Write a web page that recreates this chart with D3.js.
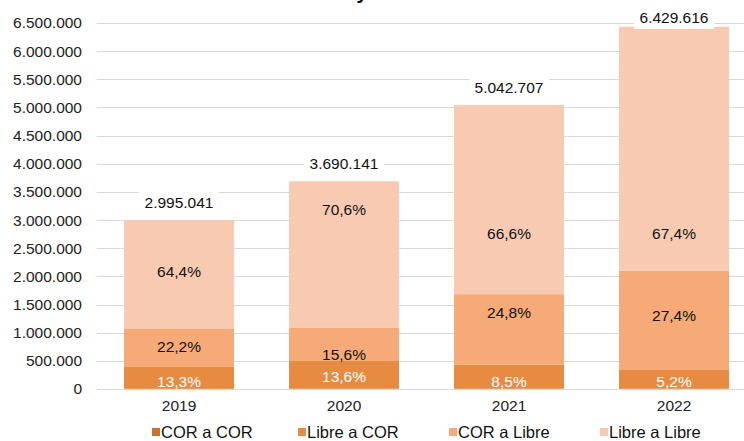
<!DOCTYPE html>
<html>
<head>
<meta charset="utf-8">
<script src="https://cdn.jsdelivr.net/npm/d3@7"></script>
<style>
  body { margin: 0; background: #fff; }
  svg { display: block; font-family: "Liberation Sans", Arial, sans-serif; }
</style>
</head>
<body>
<div id="viz"></div>
<script>
// data
var years = ["2019", "2020", "2021", "2022"];
var totals = [2995041, 3690141, 5042707, 6429616];
var series = ["COR a COR", "Libre a COR", "COR a Libre", "Libre a Libre"];
var pctCorCor = [0.1, 0.2, 0.1, 0.05];
var pctLibreCor = [13.3, 13.6, 8.5, 5.2];
var pctCorLibre = [22.2, 15.6, 24.8, 27.4];
var pctLibreLibre = [64.4, 70.6, 66.6, 67.4];
var yTicks = [0, 500000, 1000000, 1500000, 2000000, 2500000, 3000000, 3500000,
  4000000, 4500000, 5000000, 5500000, 6000000, 6500000];

var colors = ["#C8742F", "#E88B42", "#F5AA77", "#F8CAB2"];
var labelColors = [null, "#ffffff", "#111111", "#111111"];
// where the reference puts each % label (in axis units, labels were hand-placed)
var labelAnchors = [null,
  [140000, 230000, 140000, 140000],
  [746000, 604000, 1350000, 1314000],
  [2080000, 3190000, 2770000, 2770000]];

var width = 744, height = 441;

var svg = d3.select("#viz").append("svg")
  .attr("width", width)
  .attr("height", height);

var fmtInt = function (v) {
  return d3.format(",")(v).replace(/,/g, ".");
};
var fmtPct = function (v) {
  return v.toFixed(1).replace(".", ",") + "%";
};

var xScale = d3.scaleBand().domain(years).range([96.5, 756.5])
  .paddingInner(1 / 3).paddingOuter(1 / 6);
var yScale = d3.scaleLinear().domain([0, 6500000]).range([389, 23]);

// title (cut off at the top in the reference)
svg.append("text")
  .attr("x", 362)
  .attr("y", -1)
  .attr("text-anchor", "middle")
  .style("font-size", "20px")
  .style("font-weight", "bold")
  .text("y");

// gridlines
svg.append("g").selectAll("line")
  .data(yTicks)
  .enter()
  .append("line")
  .attr("x1", 97)
  .attr("x2", width)
  .attr("y1", function (d) { return Math.round(yScale(d)) + 0.5; })
  .attr("y2", function (d) { return Math.round(yScale(d)) + 0.5; })
  .attr("stroke", "#d9d9d9")
  .attr("stroke-width", 1);

// y axis
var yAxis = d3.axisLeft(yScale).tickValues(yTicks).tickFormat(fmtInt).tickSize(0).tickPadding(0);
var gy = svg.append("g")
  .attr("transform", "translate(82,0)")
  .call(yAxis);
gy.select(".domain").remove();
gy.selectAll("text")
  .style("font-size", "15.5px")
  .style("font-family", "Liberation Sans, Arial, sans-serif")
  .attr("fill", "#222");

// x axis
var xAxis = d3.axisBottom(xScale).tickSize(0).tickPadding(0);
var gx = svg.append("g")
  .attr("transform", "translate(0,400)")
  .call(xAxis);
gx.select(".domain").remove();
gx.selectAll("text")
  .style("font-size", "15.5px")
  .style("font-family", "Liberation Sans, Arial, sans-serif")
  .attr("fill", "#222");

// stack table
var pcts = [pctCorCor, pctLibreCor, pctCorLibre, pctLibreLibre];
var table = years.map(function (y, i) {
  var row = { year: y };
  series.forEach(function (s, k) {
    row[s] = totals[i] * pcts[k][i] / 100;
  });
  return row;
});
var stacked = d3.stack().keys(series)(table);

var layers = svg.append("g").selectAll("g")
  .data(stacked)
  .enter()
  .append("g")
  .attr("fill", function (d, k) { return colors[k]; });

layers.selectAll("rect")
  .data(function (d) { return d; })
  .enter()
  .append("rect")
  .attr("x", function (d) { return xScale(d.data.year); })
  .attr("width", xScale.bandwidth())
  .attr("y", function (d) { return yScale(d[1]); })
  .attr("height", function (d) { return yScale(d[0]) - yScale(d[1]); });

// percentage labels
stacked.forEach(function (layer, k) {
  if (!labelColors[k]) return;
  svg.append("g").selectAll("text")
    .data(layer)
    .enter()
    .append("text")
    .attr("x", function (d) { return xScale(d.data.year) + xScale.bandwidth() / 2; })
    .attr("y", function (d, i) { return yScale(labelAnchors[k][i]) + 5.5; })
    .attr("text-anchor", "middle")
    .attr("fill", labelColors[k])
    .style("font-size", "15.5px")
    .text(function (d, i) { return fmtPct(pcts[k][i]); });
});

// totals above bars, with white boxes
var totG = svg.append("g").selectAll("g")
  .data(years)
  .enter()
  .append("g")
  .attr("transform", function (d, i) {
    var ty = Math.max(yScale(totals[i]) - 18, 17);
    return "translate(" + (xScale(d) + xScale.bandwidth() / 2) + "," + ty + ")";
  });
totG.append("rect")
  .attr("x", -40)
  .attr("y", -12)
  .attr("width", 80)
  .attr("height", 24)
  .attr("fill", "#fff");
totG.append("text")
  .attr("y", 5.5)
  .attr("text-anchor", "middle")
  .attr("fill", "#111")
  .style("font-size", "15.5px")
  .text(function (d, i) { return fmtInt(totals[i]); });

// legend
var legendX = [152, 298, 449, 600];
var legend = svg.append("g").selectAll("g")
  .data(series)
  .enter()
  .append("g")
  .attr("transform", function (d, i) { return "translate(" + legendX[i] + ",433)"; });
legend.append("rect")
  .attr("x", 0)
  .attr("y", -5)
  .attr("width", 8)
  .attr("height", 8)
  .attr("fill", function (d, i) { return colors[i]; });
legend.append("text")
  .attr("x", 9)
  .attr("y", 5)
  .attr("fill", "#111")
  .style("font-size", "16.5px")
  .text(function (d) { return d; });
</script>
</body>
</html>
